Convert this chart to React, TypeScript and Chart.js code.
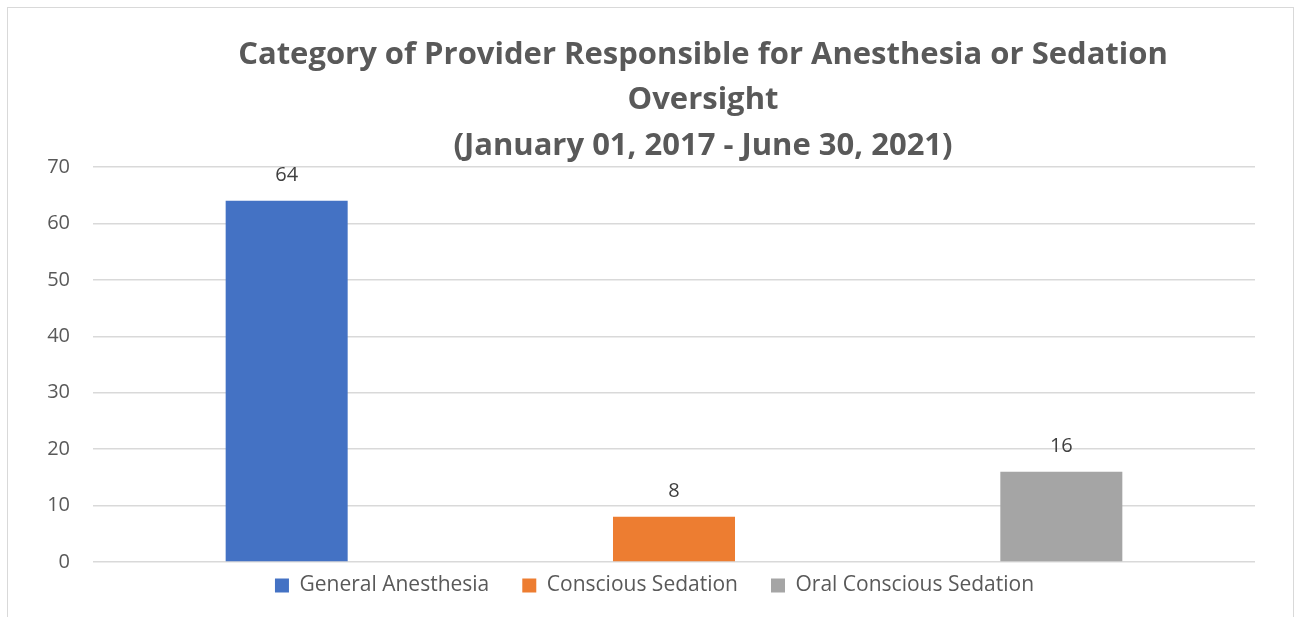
import React, { useEffect, useRef } from "react";
import { Chart, registerables } from "chart.js";

Chart.register(...registerables);

const categories = [""];
const seriesNames = ["General Anesthesia", "Conscious Sedation", "Oral Conscious Sedation"];
const generalAnesthesia = [64];
const consciousSedation = [8];
const oralConsciousSedation = [16];
const seriesColors = ["#4472C4", "#ED7D31", "#A5A5A5"];
const yMin = 0;
const yMax = 70;
const yStep = 10;
const titleLines = [
  "Category of Provider Responsible for Anesthesia or Sedation",
  "Oversight",
  "(January 01, 2017 - June 30, 2021)",
];

const FONT = "'Open Sans', Lato, sans-serif";

const titlePlugin = {
  id: "customTitle",
  afterDraw(chart: any) {
    const ctx = chart.ctx;
    ctx.save();
    ctx.font = `bold 31px ${FONT}`;
    ctx.fillStyle = "#595959";
    ctx.textAlign = "center";
    ctx.textBaseline = "middle";
    titleLines.forEach((line, i) => {
      ctx.fillText(line, 703, 55 + i * 45.5);
    });
    ctx.restore();
  },
};

const valueLabelPlugin = {
  id: "valueLabels",
  afterDatasetsDraw(chart: any) {
    const ctx = chart.ctx;
    ctx.save();
    ctx.font = `20px ${FONT}`;
    ctx.fillStyle = "#404040";
    ctx.textAlign = "center";
    ctx.textBaseline = "middle";
    chart.data.datasets.forEach((ds: any, di: number) => {
      const meta = chart.getDatasetMeta(di);
      meta.data.forEach((el: any, i: number) => {
        ctx.fillText(String(ds.data[i]), el.x, el.y - 25.5);
      });
    });
    ctx.restore();
  },
};

const legendShiftPlugin = {
  id: "legendShift",
  afterLayout(chart: any) {
    const lg = chart.legend;
    if (lg) {
      lg.top -= 20;
      lg.bottom -= 20;
      lg.left += 27;
      lg.right += 27;
    }
  },
};

export default function App() {
  const canvasRef = useRef<HTMLCanvasElement | null>(null);

  useEffect(() => {
    if (!canvasRef.current) return;
    const values = [generalAnesthesia, consciousSedation, oralConsciousSedation];
    const chart = new Chart(canvasRef.current, {
      type: "bar",
      data: {
        labels: categories,
        datasets: seriesNames.map((name, i) => ({
          label: name,
          data: values[i],
          backgroundColor: seriesColors[i],
          borderWidth: 0,
          categoryPercentage: 1,
          barPercentage: 0.315,
        })),
      },
      options: {
        animation: false,
        responsive: false,
        layout: { padding: { left: 0, right: 39, top: 167, bottom: 0 } },
        plugins: {
          title: { display: false },
          tooltip: { enabled: false },
          legend: {
            display: true,
            position: "bottom",
            maxHeight: 55,
            labels: {
              boxWidth: 14,
              boxHeight: 14,
              padding: 33,
              color: "#595959",
              font: { family: FONT, size: 21 },
            },
          },
        },
        scales: {
          x: { display: false },
          y: {
            min: yMin,
            max: yMax,
            ticks: {
              stepSize: yStep,
              color: "#595959",
              font: { family: FONT, size: 20 },
              padding: 23,
            },
            grid: { color: "#d9d9d9", lineWidth: 1.5, drawTicks: false },
            border: { display: false },
            afterFit(scale: any) {
              scale.width = 93;
            },
          },
        },
      },
      plugins: [titlePlugin, valueLabelPlugin, legendShiftPlugin],
    });
    return () => chart.destroy();
  }, []);

  return (
    <div style={{ position: "absolute", left: 0, top: 0, width: 1294, height: 617, overflow: "hidden", background: "#fff" }}>
      <div
        style={{
          position: "absolute",
          left: 7,
          top: 7,
          width: 1287,
          height: 700,
          border: "1px solid #d9d9d9",
          boxSizing: "border-box",
        }}
      />
      <canvas ref={canvasRef} width={1294} height={617} style={{ position: "absolute", left: 0, top: 0 }} />
    </div>
  );
}
